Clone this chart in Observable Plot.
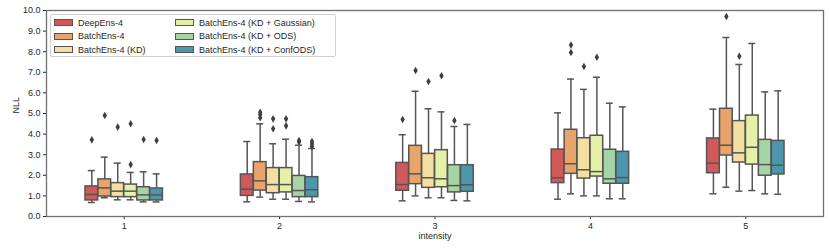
<!DOCTYPE html>
<html>
<head>
<meta charset="utf-8">
<script src="https://cdn.jsdelivr.net/npm/d3@7"></script>
<script src="https://cdn.jsdelivr.net/npm/@observablehq/plot@0.6"></script>
<style>
  html, body { margin: 0; padding: 0; background: white; }
  #wrap { position: relative; width: 830px; height: 251px; font-family: "Liberation Sans", Arial, sans-serif; }
  #legend {
    position: absolute; left: 50px; top: 14px; width: 286px; height: 43px;
    border: 1px solid #d0d0d0; border-radius: 2px; background: rgba(255,255,255,0.85);
    display: grid; grid-template-columns: 121px auto; grid-auto-rows: 13.6px;
    padding: 1px 0 0 3px; box-sizing: border-box; font-size: 9px; color: #262626;
  }
  .item { display: flex; align-items: center; white-space: nowrap; }
  .sw { width: 19px; height: 7px; box-sizing: border-box; border: 1px solid #555; margin-right: 5px; }
</style>
</head>
<body>
<div id="wrap"></div>
<script>
// ---- data ----
const intensities = [1, 2, 3, 4, 5];
const models = [
  "DeepEns-4",
  "BatchEns-4",
  "BatchEns-4 (KD)",
  "BatchEns-4 (KD + Gaussian)",
  "BatchEns-4 (KD + ODS)",
  "BatchEns-4 (KD + ConfODS)"
];
const colors = ["#d2595a", "#e8a46b", "#f3dfa1", "#e5f0a8", "#a6d4a5", "#4c97ab"];

// rows: model, columns: intensity 1..5
const lowWhisker = [
  [0.68, 0.71, 0.76, 0.84, 1.10],
  [0.91, 0.94, 1.00, 1.10, 1.42],
  [0.81, 0.84, 0.91, 1.00, 1.23],
  [0.81, 0.84, 0.91, 1.00, 1.26],
  [0.71, 0.73, 0.78, 0.86, 1.10],
  [0.71, 0.71, 0.76, 0.86, 1.08]
];
const q1 = [
  [0.78, 1.00, 1.25, 1.62, 2.10],
  [0.97, 1.26, 1.57, 2.07, 2.96],
  [0.94, 1.13, 1.39, 1.84, 2.62],
  [0.94, 1.17, 1.42, 1.94, 2.52],
  [0.78, 0.94, 1.17, 1.59, 1.98],
  [0.78, 0.94, 1.20, 1.59, 2.04]
];
const median = [
  [1.07, 1.33, 1.55, 1.88, 2.59],
  [1.39, 1.73, 2.07, 2.56, 3.46],
  [1.23, 1.55, 1.88, 2.27, 3.09],
  [1.23, 1.55, 1.83, 2.18, 3.36],
  [1.05, 1.26, 1.50, 1.83, 2.52],
  [1.05, 1.30, 1.54, 1.89, 2.49]
];
const q3 = [
  [1.46, 2.04, 2.60, 3.25, 3.79],
  [1.80, 2.64, 3.43, 4.21, 5.23],
  [1.62, 2.35, 3.04, 3.80, 4.63],
  [1.55, 2.35, 3.22, 3.92, 4.90],
  [1.42, 1.97, 2.49, 3.24, 3.72],
  [1.36, 1.91, 2.49, 3.14, 3.67]
];
const highWhisker = [
  [2.23, 3.64, 3.97, 5.03, 5.21],
  [2.88, 4.50, 6.08, 6.67, 8.69],
  [2.59, 3.53, 5.23, 6.17, 7.38],
  [2.14, 3.75, 5.08, 6.76, 8.40],
  [2.17, 3.46, 4.37, 5.50, 6.05],
  [2.07, 3.30, 4.47, 5.32, 6.10]
];
// outliers: [model index, intensity, value]
const outliers = [
  [0, 1, 3.72], [1, 1, 4.90], [2, 1, 4.34], [3, 1, 4.50], [3, 1, 2.52], [4, 1, 3.74], [5, 1, 3.69],
  [1, 2, 4.79], [1, 2, 4.95], [1, 2, 5.06], [2, 2, 4.26], [2, 2, 4.74], [3, 2, 4.40], [3, 2, 4.74],
  [4, 2, 3.62], [4, 2, 3.69], [5, 2, 3.40], [5, 2, 3.52], [5, 2, 3.64],
  [0, 3, 4.71], [1, 3, 7.09], [2, 3, 6.55], [3, 3, 6.83], [4, 3, 4.66],
  [1, 4, 7.96], [1, 4, 8.32], [2, 4, 7.28], [3, 4, 7.73],
  [1, 5, 9.71], [2, 5, 7.78]
];

// ---- layout helpers (seaborn-style dodge) ----
const groupWidth = 0.5;
const slot = groupWidth / models.length;
const boxW = slot * 0.98;
const capW = boxW * 0.55;
const center = (j, t) => t + (j - (models.length - 1) / 2) * slot;

const rows = [];
models.forEach((m, j) => intensities.forEach((t, i) => rows.push({
  model: m, j, t,
  lo: lowWhisker[j][i], q1: q1[j][i], med: median[j][i], q3: q3[j][i], hi: highWhisker[j][i]
})));
const outRows = outliers.map(([j, t, v]) => ({j, t, v}));

const gray = "#555555";
const cx = d => center(d.j, d.t);

const chart = Plot.plot({
  width: 830, height: 251,
  marginLeft: 46, marginRight: 7, marginTop: 10, marginBottom: 35,
  style: {fontFamily: "Liberation Sans, Arial, sans-serif", fontSize: "9px", color: "#262626", background: "white"},
  x: {type: "linear", domain: [0.5, 5.5], ticks: intensities, tickFormat: d => String(d), tickSize: 3, tickPadding: 3, label: null},
  y: {domain: [0, 10], ticks: d3.range(0, 11), tickFormat: d3.format(".1f"), tickSize: 3, tickPadding: 3, label: null},
  color: {domain: models, range: colors},
  marks: [
    Plot.ruleX(rows, {x: cx, y1: "lo", y2: "q1", stroke: gray, strokeWidth: 1.5}),
    Plot.ruleX(rows, {x: cx, y1: "q3", y2: "hi", stroke: gray, strokeWidth: 1.5}),
    Plot.ruleY(rows, {y: "lo", x1: d => cx(d) - capW / 2, x2: d => cx(d) + capW / 2, stroke: gray, strokeWidth: 1.5}),
    Plot.ruleY(rows, {y: "hi", x1: d => cx(d) - capW / 2, x2: d => cx(d) + capW / 2, stroke: gray, strokeWidth: 1.5}),
    Plot.rectY(rows, {x1: d => cx(d) - boxW / 2, x2: d => cx(d) + boxW / 2, y1: "q1", y2: "q3", fill: "model", stroke: gray, strokeWidth: 1.5}),
    Plot.ruleY(rows, {y: "med", x1: d => cx(d) - boxW / 2, x2: d => cx(d) + boxW / 2, stroke: gray, strokeWidth: 1.5}),
    Plot.dot(outRows, {x: cx, y: "v", symbol: "diamond", fill: "#3f3f3f", stroke: "none", r: 2.3}),
    Plot.frame({stroke: "#707070", strokeWidth: 1.3}),
    Plot.text(["NLL"], {frameAnchor: "left", dx: -30, rotate: -90, fontSize: 9, fill: "#262626"}),
    Plot.text(["intensity"], {frameAnchor: "bottom", dy: 22, fontSize: 9, fill: "#262626"})
  ]
});

const wrap = document.getElementById("wrap");
wrap.appendChild(chart);

// legend (2 columns, filled column-wise like matplotlib ncol=2)
const legend = document.createElement("div");
legend.id = "legend";
const order = [0, 3, 1, 4, 2, 5];
order.forEach(j => {
  const it = document.createElement("div");
  it.className = "item";
  const sw = document.createElement("span");
  sw.className = "sw";
  sw.style.background = colors[j];
  const tx = document.createElement("span");
  tx.textContent = models[j];
  it.appendChild(sw); it.appendChild(tx);
  legend.appendChild(it);
});
wrap.appendChild(legend);
</script>
</body>
</html>
